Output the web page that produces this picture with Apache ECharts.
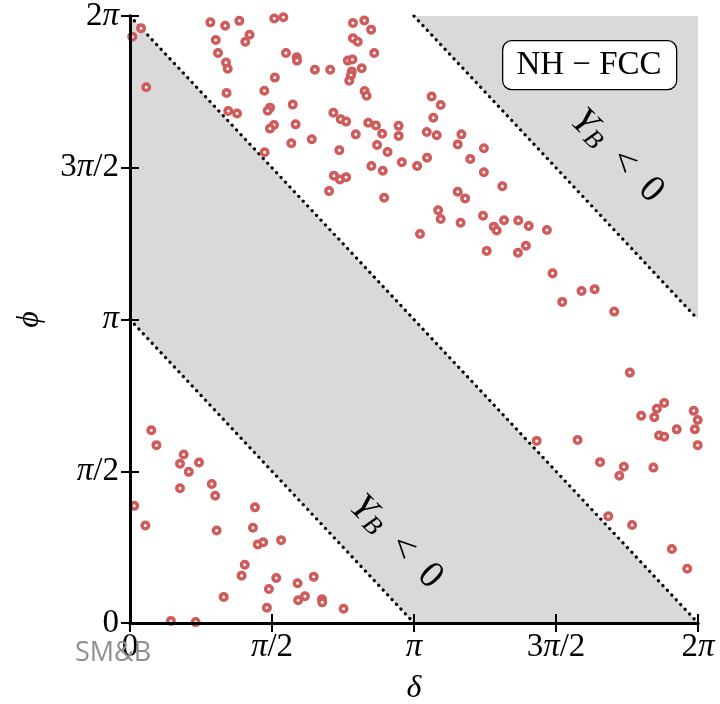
<!DOCTYPE html>
<html>
<head>
<meta charset="utf-8">
<script src="https://cdn.jsdelivr.net/npm/echarts@6/dist/echarts.min.js"></script>
<style>html,body{margin:0;padding:0;background:#fff}#c{width:720px;height:704px}</style>
</head>
<body>
<div id="c"></div>
<script>
// values in units of pi
const delta = [0.008,0.039,0.057,0.283,0.335,0.385,0.508,0.540,0.302,0.421,0.406,0.310,0.338,0.344,0.549,0.587,0.588,0.651,0.705,0.510,
0.785,0.825,0.849,0.785,0.802,0.860,0.767,0.783,0.816,0.781,0.778,0.772,0.340,0.473,0.826,0.833,0.573,0.346,0.377,0.493,
0.485,0.716,0.742,0.761,0.583,0.507,0.493,0.839,0.866,0.946,0.795,0.888,0.946,0.640,0.568,0.870,0.737,0.907,0.474,0.957,
1.011,0.850,0.890,0.718,0.739,0.761,0.701,0.895,
1.062,1.094,1.068,1.045,1.080,1.167,1.154,1.246,1.198,1.046,1.246,1.311,1.154,1.180,1.085,1.094,1.164,1.243,1.281,1.291,
1.317,1.367,1.404,1.468,1.021,
1.256,1.366,1.394,1.488,1.590,1.636,1.522,1.705,1.760,1.881,1.855,1.800,1.846,1.985,1.999,1.925,1.989,1.863,1.881,1.432,1.576,
1.999,1.655,1.739,1.723,1.843,1.684,1.768,1.908,1.962,
0.075,0.093,0.189,0.176,0.243,0.207,0.176,0.288,0.300,0.015,0.054,0.305,0.440,0.433,0.450,0.469,0.532,0.404,0.393,0.515,
0.489,0.330,0.590,0.647,0.616,0.592,0.676,0.677,0.482,0.752,0.144,0.231];
const phi = [1.932,1.960,1.765,1.979,1.968,1.984,1.992,1.996,1.921,1.938,1.915,1.878,1.847,1.826,1.878,1.864,1.853,1.823,1.823,1.797,
1.977,1.985,1.955,1.927,1.915,1.878,1.853,1.857,1.828,1.817,1.805,1.787,1.746,1.754,1.753,1.737,1.708,1.687,1.679,1.698,
1.688,1.681,1.660,1.652,1.643,1.641,1.629,1.648,1.639,1.638,1.610,1.612,1.605,1.594,1.581,1.575,1.558,1.552,1.551,1.518,
1.506,1.506,1.490,1.474,1.461,1.469,1.423,1.401,
1.735,1.707,1.665,1.618,1.607,1.610,1.577,1.564,1.529,1.533,1.485,1.439,1.421,1.399,1.360,1.331,1.319,1.342,1.306,1.293,
1.327,1.326,1.308,1.295,1.282,
1.226,1.220,1.243,1.152,1.094,1.100,1.058,1.026,0.825,0.725,0.706,0.683,0.678,0.699,0.669,0.638,0.638,0.618,0.614,0.600,0.603,
0.586,0.530,0.515,0.485,0.512,0.352,0.323,0.244,0.179,
0.635,0.586,0.555,0.525,0.529,0.498,0.444,0.458,0.419,0.386,0.321,0.305,0.381,0.314,0.259,0.266,0.273,0.192,0.156,0.148,
0.112,0.086,0.131,0.152,0.088,0.075,0.078,0.068,0.050,0.047,0.007,0.003];
const tickLabels = ['0', 'π/2', 'π', '3π/2', '2π'];
const bandRegion = [[0,1],[0,2],[2,0],[1,0]];
const cornerRegion = [[1,2],[2,2],[2,1]];
const boundary1 = [[0,1],[1,0]];
const boundary2 = [[0,2],[2,0]];
const boundary3 = [[1,2],[2,1]];

const serif = "'Liberation Serif','DejaVu Serif',serif";
const chart = echarts.init(document.getElementById('c'), null, {renderer:'canvas'});
const fmt = v => { const s = tickLabels[Math.round(v/0.5)]; return s ? s.replace('π','{p|π}') : ''; };
const labelStyle = {fontFamily: serif, fontSize: 33, color:'#000', rich:{p:{fontFamily:serif, fontSize:33, fontStyle:'italic', color:'#000'}}, formatter: fmt};
const axLine = {show:true, lineStyle:{color:'#000', width:3}};
const axTick = {show:true, inside:true, length:9, lineStyle:{color:'#000', width:2}};
const poly = (pts) => ({
  type:'custom', silent:true, z:1, data:[0],
  renderItem:(params, api) => ({type:'polygon', shape:{points: pts.map(p => api.coord(p))}, style:{fill:'#d9d9d9'}})
});
const dotted = (pts) => ({
  type:'line', data: pts, showSymbol:false, silent:true, z:3,
  lineStyle:{color:'#000', width:3.2, type:[0.1,6.4], cap:'round'}
});
const yb = (x, y) => ({type:'text', x:x, y:y, rotation:-Math.PI/4, z:21, style:{
  text:'{y|Y}{b|B}{n|  <  0}', align:'center', verticalAlign:'middle',
  rich:{y:{fontFamily:serif, fontSize:38, fontStyle:'italic', lineHeight:38, verticalAlign:'top', fill:'#000'},
        b:{fontFamily:serif, fontSize:26, fontStyle:'italic', lineHeight:26, verticalAlign:'bottom', fill:'#000'},
        n:{fontFamily:serif, fontSize:38, lineHeight:38, verticalAlign:'top', fill:'#000'}}}});

chart.setOption({
  animation:false,
  grid:{left:130, right:22, top:16, bottom:81, outerBoundsMode:'none'},
  xAxis:[
    {type:'value', min:0, max:2, interval:0.5, z:10, axisLine:axLine, axisTick:axTick, splitLine:{show:false},
     axisLabel:Object.assign({margin:8}, labelStyle),
     name:'δ', nameLocation:'middle', nameGap:50, nameTextStyle:{fontFamily:serif, fontSize:32, fontStyle:'italic', color:'#000'}},
    {type:'value', position:'top', min:0, max:2, interval:0.5, z:10, axisLine:axLine, axisTick:axTick, splitLine:{show:false}, axisLabel:{show:false}}
  ],
  yAxis:[
    {type:'value', min:0, max:2, interval:0.5, z:10, axisLine:axLine, axisTick:axTick, splitLine:{show:false},
     axisLabel:Object.assign({margin:11}, labelStyle),
     name:'ϕ', nameLocation:'middle', nameGap:84, nameRotate:90, nameTextStyle:{fontFamily:serif, fontSize:32, fontStyle:'italic', color:'#000'}},
    {type:'value', position:'right', min:0, max:2, interval:0.5, z:10, axisLine:axLine, axisTick:axTick, splitLine:{show:false}, axisLabel:{show:false}}
  ],
  series:[
    poly(bandRegion), poly(cornerRegion),
    dotted(boundary1), dotted(boundary2), dotted(boundary3),
    {type:'scatter', silent:true, z:5, data: delta.map((d,i)=>[d, phi[i]]), symbol:'circle', symbolSize:6.5,
     itemStyle:{color:'#ffffff', borderColor:'#cf5b5b', borderWidth:3.5, opacity:1}}
  ],
  graphic:[
    {type:'rect', left:502, top:40, z:20, shape:{width:174, height:49, r:9}, style:{fill:'#fff', stroke:'#000', lineWidth:1.3}},
    {type:'text', x:589, y:65, z:21, style:{text:'NH − FCC', fontFamily:serif, fontSize:33, fill:'#000', align:'center', verticalAlign:'middle'}},
    yb(617, 156), yb(396, 542),
    {type:'text', left:75, top:640, z:21, style:{text:'SM&B', fontFamily:"'Open Sans',sans-serif", fontSize:27, fill:'#8f8f8f'}}
  ]
});
</script>
</body>
</html>
